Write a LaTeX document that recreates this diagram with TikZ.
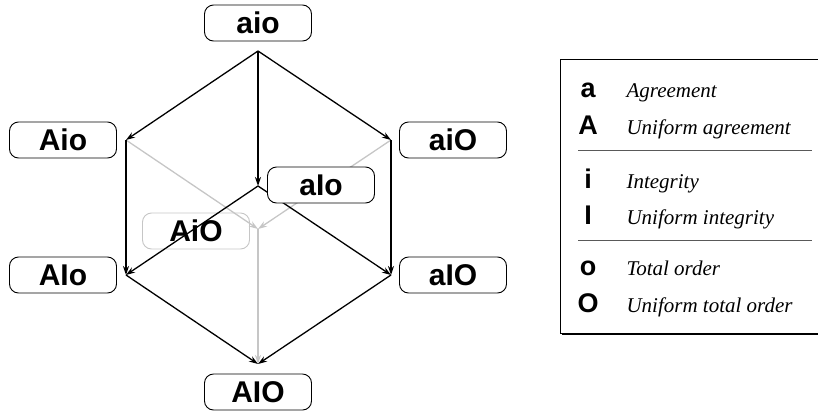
\documentclass[tikz,border=0pt]{standalone}
\usepackage{fontspec}
\setmainfont{Liberation Serif}
\newfontfamily\hv{Liberation Sans}
\usetikzlibrary{arrows.meta}
\begin{document}
\begin{tikzpicture}[x=1pt,y=-1pt,
  lbl/.style={draw,line width=0.9pt,rounded corners=9pt,fill=white,minimum width=107pt,minimum height=36pt,inner sep=0pt,font=\hv\bfseries\fontsize{30}{30}\selectfont},
  key/.style={anchor=base,font=\hv\bfseries\fontsize{27}{27}\selectfont},
  desc/.style={anchor=base west,font=\itshape\fontsize{21}{21}\selectfont},
  edge/.style={-{Stealth[length=9pt,width=6pt]},line width=1.3pt},
  faint/.style={edge,gray!45}]
\useasboundingbox (0,0) rectangle (818,410);
\coordinate (top) at (258,51);
\coordinate (ul) at (126,140);
\coordinate (ur) at (391,140);
\coordinate (mid) at (258,186);
\coordinate (bk) at (258,229);
\coordinate (ll) at (126,275);
\coordinate (lr) at (391,275);
\coordinate (bot) at (258,364);
\draw[faint] (ul) -- (bk);
\draw[faint] (ur) -- (bk);
\draw[faint] (bk) -- (bot);
\node[lbl,draw=gray!45,fill=none] (AiO) at (196,231) {AiO};
\draw[edge] (top) -- (ul);
\draw[edge] (top) -- (ur);
\draw[edge] (top) -- (mid);
\draw[edge] (ul) -- (ll);
\draw[edge] (ur) -- (lr);
\draw[edge] (mid) -- (ll);
\draw[edge] (mid) -- (lr);
\draw[edge] (ll) -- (bot);
\draw[edge] (lr) -- (bot);
\node[lbl] (aio) at (258,23) {aio};
\node[lbl] (Aio) at (63,140) {Aio};
\node[lbl] (aiO) at (453,140) {aiO};
\node[lbl] (aIo) at (321,185) {aIo};
\node[lbl] (AIo) at (63,275) {AIo};
\node[lbl] (aIO) at (453,275) {aIO};
\node[lbl] (AIO) at (258,392) {AIO};
\fill (562,61) rectangle (850,335);
\draw[line width=0.9pt,fill=white] (560,59) rectangle (850,333);
\draw[gray!70!black,line width=0.9pt] (578,150) -- (812,150);
\draw[gray!70!black,line width=0.9pt] (578,240) -- (812,240);
\node[key] (ka) at (588,97) {a};
\node[desc] (ta) at (623,97) {Agreement};
\node[key] (kA) at (588,134) {A};
\node[desc] (tA) at (623,134) {Uniform agreement};
\node[key] (ki) at (588,188) {i};
\node[desc] (ti) at (623,188) {Integrity};
\node[key] (kI) at (588,224) {I};
\node[desc] (tI) at (623,224) {Uniform integrity};
\node[key] (ko) at (588,275) {o};
\node[desc] (to) at (623,275) {Total order};
\node[key] (kO) at (588,312) {O};
\node[desc] (tO) at (623,312) {Uniform total order};
\end{tikzpicture}
\end{document}
